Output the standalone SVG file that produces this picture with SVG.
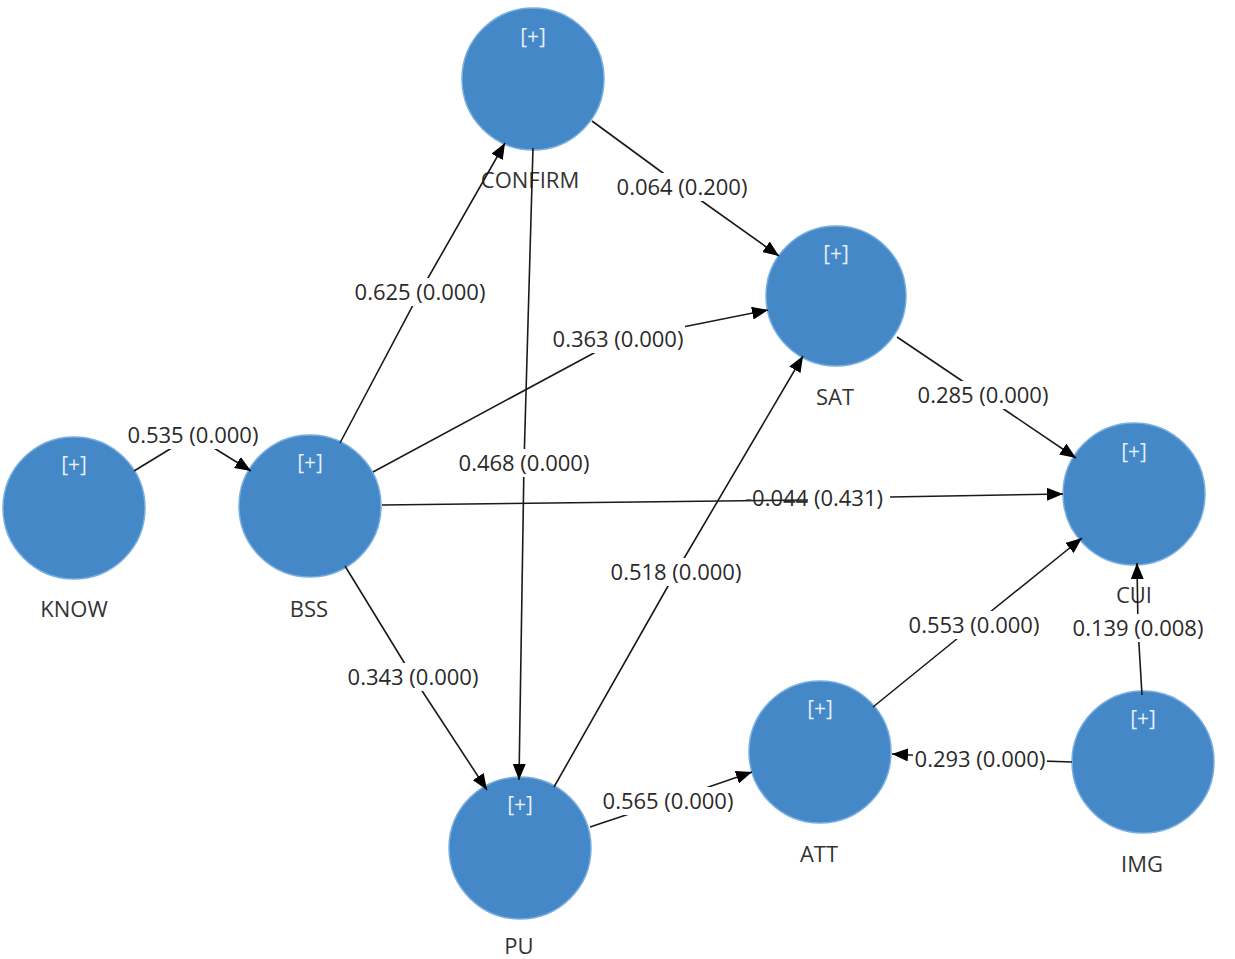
<svg xmlns="http://www.w3.org/2000/svg" width="1235" height="959" viewBox="0 0 1235 959">
<style>
.node{fill:#4588c8;stroke:#79aee0;stroke-width:1.5}
.plus{font-family:"Open Sans","Noto Sans",sans-serif;font-size:21px;fill:#e6eef8;text-anchor:middle}
.name{font-family:"Open Sans","Noto Sans",sans-serif;font-size:22px;fill:#333;text-anchor:middle}
.lbl{font-family:"Open Sans","Noto Sans",sans-serif;font-size:22px;fill:#2a2a2a;text-anchor:middle}
.edge{fill:none;stroke:#1a1a1a;stroke-width:1.6}
.bg{fill:#fff}
</style>
<defs>
<marker id="arr" viewBox="0 0 16 13" refX="16" refY="6.5" markerWidth="16" markerHeight="13" markerUnits="userSpaceOnUse" orient="auto"><path d="M0,0 L16,6.5 L0,13 z" fill="#000"/></marker>
</defs>
<rect width="1235" height="959" fill="#fff"/>
<g id="CONFIRM"><circle class="node" cx="533" cy="79" r="71"/><text class="plus" x="533" y="44">[+]</text><text class="name" x="530" y="188">CONFIRM</text></g>
<g id="SAT"><circle class="node" cx="836" cy="296" r="70"/><text class="plus" x="836" y="261">[+]</text><text class="name" x="835" y="405">SAT</text></g>
<g id="KNOW"><circle class="node" cx="74" cy="508" r="71"/><text class="plus" x="74" y="472">[+]</text><text class="name" x="74" y="617">KNOW</text></g>
<g id="BSS"><circle class="node" cx="310" cy="506" r="71"/><text class="plus" x="310" y="470">[+]</text><text class="name" x="309" y="617">BSS</text></g>
<g id="CUI"><circle class="node" cx="1134" cy="494" r="71"/><text class="plus" x="1134" y="459">[+]</text><text class="name" x="1134" y="603">CUI</text></g>
<g id="ATT"><circle class="node" cx="820" cy="752" r="71"/><text class="plus" x="820" y="716">[+]</text><text class="name" x="819" y="862">ATT</text></g>
<g id="IMG"><circle class="node" cx="1143" cy="762" r="71"/><text class="plus" x="1143" y="726">[+]</text><text class="name" x="1142" y="872">IMG</text></g>
<g id="PU"><circle class="node" cx="520" cy="848" r="71"/><text class="plus" x="520" y="812">[+]</text><text class="name" x="519" y="954">PU</text></g>
<g id="connectors">
<polyline class="edge" points="134,471 193,435 251,471" marker-end="url(#arr)"/>
<rect class="bg" x="126" y="421" width="134" height="28"/><text class="lbl" x="193" y="443">0.535 (0.000)</text>
<polyline class="edge" points="340,443 420,292 505,143" marker-end="url(#arr)"/>
<rect class="bg" x="353" y="278" width="134" height="28"/><text class="lbl" x="420" y="300">0.625 (0.000)</text>
<polyline class="edge" points="533,148 524,463 519,780" marker-end="url(#arr)"/>
<rect class="bg" x="457" y="449" width="134" height="28"/><text class="lbl" x="524" y="471">0.468 (0.000)</text>
<polyline class="edge" points="592,121 682,187 779,256" marker-end="url(#arr)"/>
<rect class="bg" x="615" y="173" width="134" height="28"/><text class="lbl" x="682" y="195">0.064 (0.200)</text>
<polyline class="edge" points="373,472 618,340 768,310" marker-end="url(#arr)"/>
<rect class="bg" x="551" y="325" width="134" height="28"/><text class="lbl" x="618" y="347">0.363 (0.000)</text>
<polyline class="edge" points="345,566 413,677 487,790" marker-end="url(#arr)"/>
<rect class="bg" x="346" y="663" width="134" height="28"/><text class="lbl" x="413" y="685">0.343 (0.000)</text>
<polyline class="edge" points="554,787 676,572 803,356" marker-end="url(#arr)"/>
<path class="edge" d="M382,505 L808,500"/>
<path class="edge" d="M890,497 L1063,494" marker-end="url(#arr)"/>
<text class="lbl" x="814" y="506">-0.044 (0.431)</text>
<rect class="bg" x="609" y="558" width="134" height="28"/><text class="lbl" x="676" y="580">0.518 (0.000)</text>
<polyline class="edge" points="897,337 983,395 1076,458" marker-end="url(#arr)"/>
<rect class="bg" x="916" y="381" width="134" height="28"/><text class="lbl" x="983" y="403">0.285 (0.000)</text>
<polyline class="edge" points="873,707 974,625 1082,538" marker-end="url(#arr)"/>
<rect class="bg" x="907" y="611" width="134" height="28"/><text class="lbl" x="974" y="633">0.553 (0.000)</text>
<polyline class="edge" points="1142,695 1138,628 1137,563" marker-end="url(#arr)"/>
<rect class="bg" x="1071" y="614" width="134" height="28"/><text class="lbl" x="1138" y="636">0.139 (0.008)</text>
<polyline class="edge" points="1072,762 980,759 892,754" marker-end="url(#arr)"/>
<rect class="bg" x="913" y="745" width="134" height="28"/><text class="lbl" x="980" y="767">0.293 (0.000)</text>
<polyline class="edge" points="590,827 668,801 752,772" marker-end="url(#arr)"/>
<rect class="bg" x="601" y="787" width="134" height="28"/><text class="lbl" x="668" y="809">0.565 (0.000)</text>
</g>
</svg>
